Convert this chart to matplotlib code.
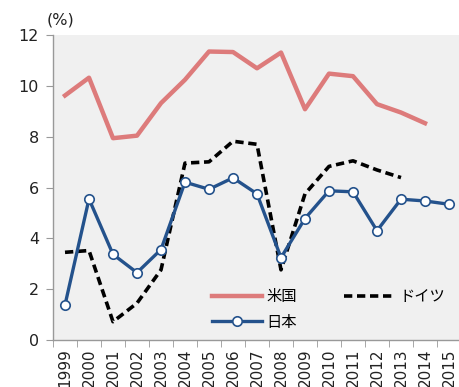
import matplotlib
matplotlib.use("Agg")
import matplotlib.pyplot as plt
import numpy as np

plt.rcParams['font.family'] = ['DejaVu Sans', 'Noto Sans CJK JP']

years = [str(y) for y in range(1999, 2016)]
usa = [9.62, 10.32, 7.94, 8.04, 9.32, 10.24, 11.35, 11.33, 10.69, 11.31,
       9.08, 10.48, 10.38, 9.28, 8.95, 8.53, None]
germany = [3.45, 3.52, 0.72, 1.45, 2.76, 6.96, 7.01, 7.82, 7.70, 2.76,
           5.75, 6.83, 7.05, 6.69, 6.39, None, None]
japan = [1.38, 5.55, 3.37, 2.65, 3.56, 6.21, 5.93, 6.38, 5.75, 3.24,
         4.78, 5.87, 5.83, 4.30, 5.54, 5.47, 5.34]
yticks = [0, 2, 4, 6, 8, 10, 12]


def as_array(vals):
    return np.array([np.nan if v is None else v for v in vals], dtype=float)


fig = plt.figure(figsize=(4.59, 3.87), dpi=100)
ax = fig.add_axes([53 / 459, 1 - 340 / 387, 408 / 459, 305 / 387])
ax.set_facecolor('#f0f0f0')

x = np.arange(len(years))
ax.plot(x, as_array(usa), color='#DD7B7B', lw=3.2, label='米国')
ax.plot(x, as_array(germany), color='black', lw=2.6, ls=(0, (2.3, 1.3)), label='ドイツ')
ax.plot(x, as_array(japan), color='#24528C', lw=2.4, marker='o', ms=6.8,
        mfc='white', mec='#24528C', mew=1.2, label='日本')

ax.set_xlim(-0.5, len(years) - 0.5)
ax.set_ylim(0, 12)
ax.set_yticks(yticks)
ax.set_yticklabels([str(v) for v in yticks], fontsize=11.5, color='#222222')
ax.set_xticks(x)
ax.set_xticklabels(years, rotation=90, fontsize=11, color='#222222')
ax.set_xticks(np.arange(-0.5, len(years), 1), minor=True)
ax.tick_params(axis='x', which='major', length=0, pad=6)
ax.tick_params(axis='x', which='minor', length=5, color='#999999', direction='out')
ax.tick_params(axis='y', length=5, color='#999999', direction='out', pad=5)

for side in ('top', 'right'):
    ax.spines[side].set_visible(False)
for side in ('left', 'bottom'):
    ax.spines[side].set_color('#999999')
    ax.spines[side].set_linewidth(1.0)

ax.text(-0.015, 1.025, '(%)', transform=ax.transAxes, fontsize=11.5,
        ha='left', va='bottom', color='#222222')

handles, labels = ax.get_legend_handles_labels()
order = [0, 2, 1]
leg = ax.legend([handles[i] for i in order], [labels[i] for i in order],
                ncol=2, loc='lower left', bbox_to_anchor=(0.355, -0.015),
                frameon=False, handlelength=3.3,
                columnspacing=3.1, handletextpad=0.3, labelspacing=0.55,
                prop={'family': ['Noto Sans CJK JP'], 'size': 11})

fig.savefig('out.png', dpi=100)
